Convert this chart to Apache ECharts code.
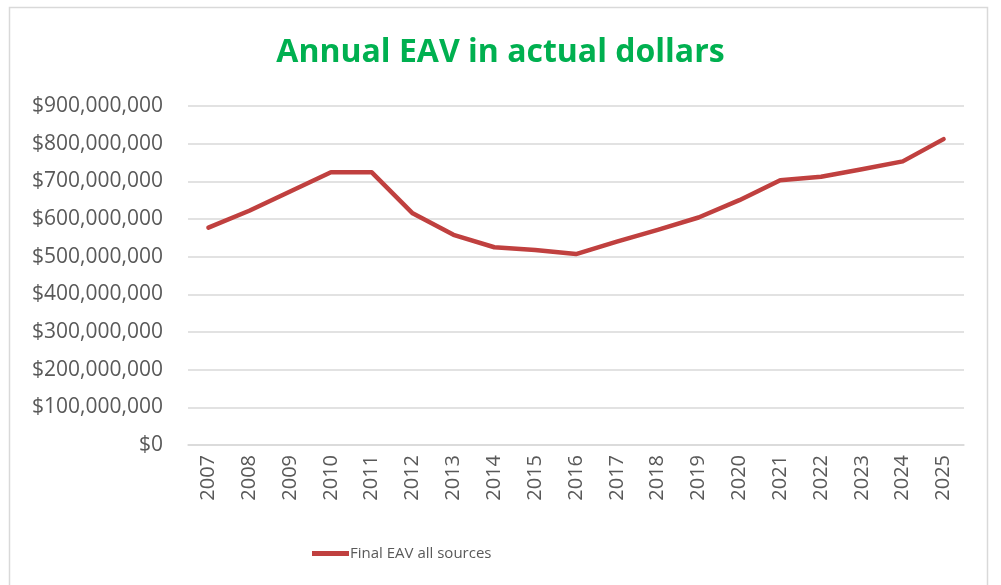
<!DOCTYPE html>
<html>
<head>
<meta charset="utf-8">
<script src="https://cdn.jsdelivr.net/npm/echarts@6/dist/echarts.min.js"></script>
<style>
  html, body { margin: 0; padding: 0; background: #ffffff; }
  #chart { width: 1001px; height: 585px; }
</style>
</head>
<body>
<div id="chart"></div>
<script>
// Fiscal years on the category axis
const years = ['2007', '2008', '2009', '2010', '2011', '2012', '2013', '2014', '2015', '2016',
               '2017', '2018', '2019', '2020', '2021', '2022', '2023', '2024', '2025'];

// Final EAV, all sources (actual dollars)
const finalEav = [577000000, 622000000, 673000000, 724000000, 724000000, 615000000, 558000000,
                  525000000, 518000000, 507000000, 540000000, 571000000, 604000000, 650000000,
                  703000000, 712000000, 732000000, 753000000, 812000000];

// Value axis ticks
const yMin = 0;
const yMax = 900000000;
const yStep = 100000000;

const seriesName = 'Final EAV all sources';
const titleText = 'Annual EAV in actual dollars';

const chart = echarts.init(document.getElementById('chart'), null, { renderer: 'canvas' });

const labelFont = '"Open Sans", "Liberation Sans", sans-serif';

chart.setOption({
  animation: false,
  backgroundColor: '#ffffff',
  graphic: [{
    type: 'rect',
    shape: { x: 9.5, y: 7.5, width: 978, height: 600 },
    style: { fill: 'none', stroke: '#d9d9d9', lineWidth: 1.5 },
    silent: true
  }],
  title: {
    text: titleText,
    left: 'center',
    top: 32,
    textStyle: {
      color: '#00b050',
      fontFamily: labelFont,
      fontWeight: 'bold',
      fontSize: 32
    }
  },
  legend: {
    data: [seriesName],
    left: 307,
    top: 541,
    icon: 'rect',
    itemWidth: 37,
    itemHeight: 5,
    itemGap: 2,
    textStyle: { color: '#595959', fontFamily: labelFont, fontSize: 15, padding: [0, 0, 0, -4] }
  },
  grid: { left: 188, right: 37, top: 106, bottom: 140 },
  xAxis: {
    type: 'category',
    data: years,
    boundaryGap: true,
    axisLine: { show: true, lineStyle: { color: '#d9d9d9', width: 1.5 } },
    axisTick: { show: false },
    axisLabel: {
      rotate: 90,
      margin: 10,
      color: '#595959',
      fontFamily: labelFont,
      fontSize: 20
    }
  },
  yAxis: {
    type: 'value',
    min: yMin,
    max: yMax,
    interval: yStep,
    axisLine: { show: false },
    axisTick: { show: false },
    splitLine: { lineStyle: { color: '#d9d9d9', width: 1.5 } },
    axisLabel: {
      margin: 25,
      color: '#595959',
      fontFamily: labelFont,
      fontSize: 21,
      formatter: function (v) {
        return '$' + v.toLocaleString('en-US');
      }
    }
  },
  series: [{
    name: seriesName,
    type: 'line',
    data: finalEav,
    symbol: 'none',
    lineStyle: { color: '#c0403f', width: 4.5, join: 'round', cap: 'round' },
    itemStyle: { color: '#c0403f' }
  }]
});
</script>
</body>
</html>
